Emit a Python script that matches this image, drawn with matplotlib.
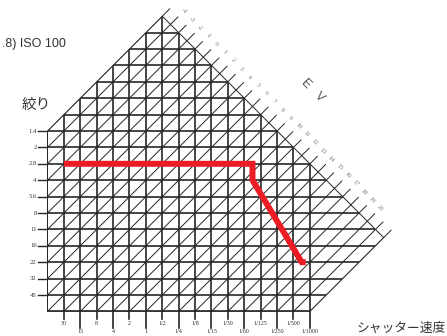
import matplotlib
matplotlib.use('Agg')
import matplotlib.pyplot as plt
from matplotlib.patches import Polygon

# shutter speeds (Tv) and apertures (Av)
shutter_labels = ['30', '15', '8', '4', '2', '1', '1/2', '1/4', '1/8', '1/15',
                  '1/30', '1/60', '1/125', '1/250', '1/500', '1/1000']
shutter_tv = list(range(-5, 11))
aperture_labels = ['1.4', '2', '2.8', '4', '5.6', '8', '11', '16', '22', '32', '45']
aperture_av = list(range(1, 12))
ev_lines = list(range(-5, 23))
ev_labels = list(range(-4, 21))

# program line
program_tv = [-5, 6.5, 6.5, 9.5, 9.75]
program_av = [3, 3, 4, 9, 9]

# outline of the chart area (Tv, Av)
outline = [(-6, 12), (-6, 1), (1, -6), (14.5, 7.5), (10, 12)]

plt.rcParams['font.family'] = ['Noto Sans CJK JP', 'DejaVu Sans']

fig = plt.figure(figsize=(4.47, 3.36), dpi=100)
ax = fig.add_axes([0, 0, 1, 1])
ax.set_xlim(-8.896, 18.36)
ax.set_ylim(13.5, -6.988)
ax.axis('off')

grid_col = '#262626'
clip = Polygon(outline, closed=True, fill=False, edgecolor=grid_col, lw=0.7)
ax.add_patch(clip)

# diagonals (constant EV)
for e in ev_lines:
    ln, = ax.plot([-8, 17], [e + 8, e - 17], color=grid_col, lw=0.7, zorder=2)
    ln.set_clip_path(clip)
    tc = (e + 7) / 2
    ac = (e - 7) / 2
    ax.plot([tc, tc + 0.45], [ac, ac - 0.45], color=grid_col, lw=0.7, zorder=2)

for e in ev_labels:
    tc = (e + 7) / 2
    ac = (e - 7) / 2
    ax.text(tc + 0.8, ac - 0.8, str(e), fontsize=4.6, color='#777777',
            family='Liberation Serif', rotation=-45, ha='center', va='center')

# verticals
for t in range(-6, 11):
    ln, = ax.plot([t, t], [-8, 12], color=grid_col, lw=1.2, zorder=3)
    ln.set_clip_path(clip)
# horizontals
for a in range(-6, 13):
    ln, = ax.plot([-8, 17], [a, a], color=grid_col, lw=1.2, zorder=3)
    ln.set_clip_path(clip)

# aperture ticks and labels
for a, lab in zip(aperture_av, aperture_labels):
    ax.plot([-6.6, -6], [a, a], color=grid_col, lw=1.0, zorder=3)
    ax.text(-6.66, a, lab, fontsize=4.8, color='#333333', family='Liberation Serif',
            ha='right', va='center')

# shutter ticks and labels
for i, (t, lab) in enumerate(zip(shutter_tv, shutter_labels)):
    low = i % 2 == 1
    end = 13.0 if low else 12.46
    ax.plot([t, t], [12, end], color=grid_col, lw=1.2, zorder=3)
    ax.text(t, 13.25 if low else 12.72, lab, fontsize=4.3, color='#333333',
            family='Liberation Serif', ha='center', va='center')

# program line
ax.plot(program_tv, program_av, color='#ec1c24', lw=4.3, zorder=5,
        solid_capstyle='butt', solid_joinstyle='miter')

fig.text(2 / 447, 1 - 44 / 336, '.8) ISO 100', fontsize=9, color='#333333',
         family='Liberation Sans', ha='left', va='center')
fig.text(36.5 / 447, 1 - 104.5 / 336, '絞り', fontsize=10.5, color='#333333',
         ha='center', va='center')
fig.text(357 / 447, 1 - 328 / 336, 'シャッター速度', fontsize=9.2, color='#333333',
         ha='left', va='center')
fig.text(313 / 447, 1 - 90 / 336, 'E   V', fontsize=9, color='#555555',
         family='Liberation Sans', rotation=-45, ha='center', va='center')

fig.savefig('out.png', dpi=100)
